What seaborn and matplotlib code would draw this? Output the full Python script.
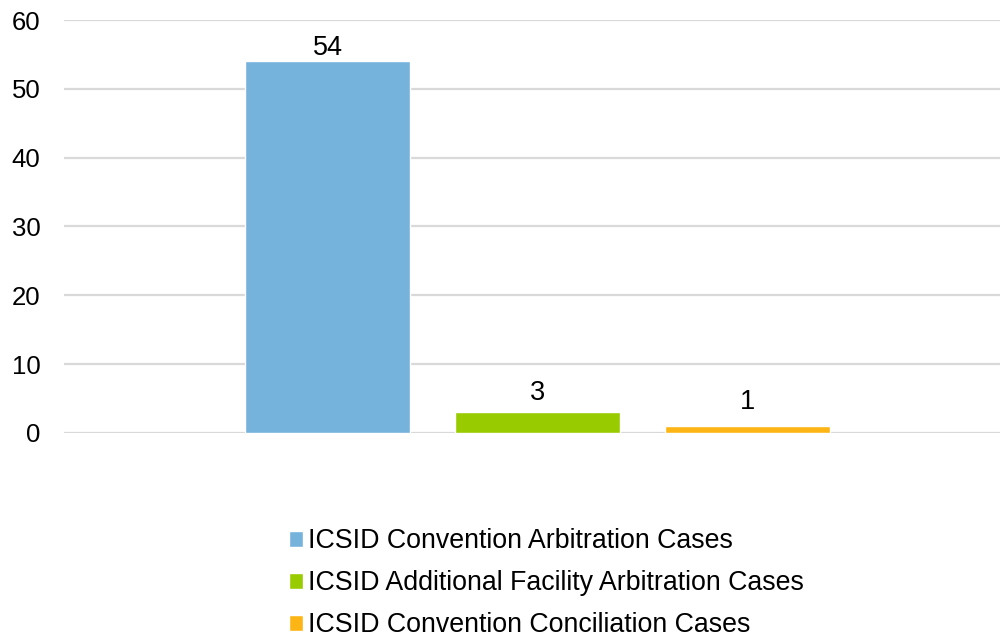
import pandas as pd
import matplotlib.pyplot as plt
import seaborn as sns

series = ['ICSID Convention Arbitration Cases',
          'ICSID Additional Facility Arbitration Cases',
          'ICSID Convention Conciliation Cases']
values = [54, 3, 1]
colors = ['#75B3DC', '#99CC00', '#FDB515']
yticks = [0, 10, 20, 30, 40, 50, 60]

df = pd.DataFrame({'group': [''] * len(series), 'series': series, 'count': values})

sns.set_style('white')
plt.rcParams['font.family'] = ['Liberation Sans', 'DejaVu Sans']

fig = plt.figure(figsize=(10, 6.39), dpi=100)
ax = fig.add_axes([0.064, 0.3224, 0.936, 0.6463])

sns.barplot(data=df, x='group', y='count', hue='series', palette=colors,
            width=0.8, gap=0.214, saturation=1, ax=ax, legend=True)

# label offsets differ per bar in the original
pads = [0, 4.5, 8]
for c, p in zip(ax.containers, pads):
    ax.bar_label(c, fontsize=19.5, padding=p, color='#000000')

ax.set_ylim(0, 60)
ax.set_yticks(yticks)
ax.set_xlim(-0.6013, 0.5873)
ax.set_xticks([])
ax.set_xlabel('')
ax.set_ylabel('')
ax.tick_params(axis='y', labelsize=18.5, length=0, pad=17, colors='#000000')
ax.yaxis.grid(True, color='#D9D9D9', linewidth=1.6)
ax.set_axisbelow(True)
for s in ax.spines.values():
    s.set_visible(False)

handles, labels = ax.get_legend_handles_labels()
ax.get_legend().remove()
fig.legend(handles, labels, loc='upper left', bbox_to_anchor=(0.278, 0.19),
           frameon=False, fontsize=19.3, handlelength=0.55, handleheight=0.55,
           handletextpad=0.18, labelspacing=0.6, borderaxespad=0,
           labelcolor='#000000')

fig.savefig('out.png', dpi=100)
